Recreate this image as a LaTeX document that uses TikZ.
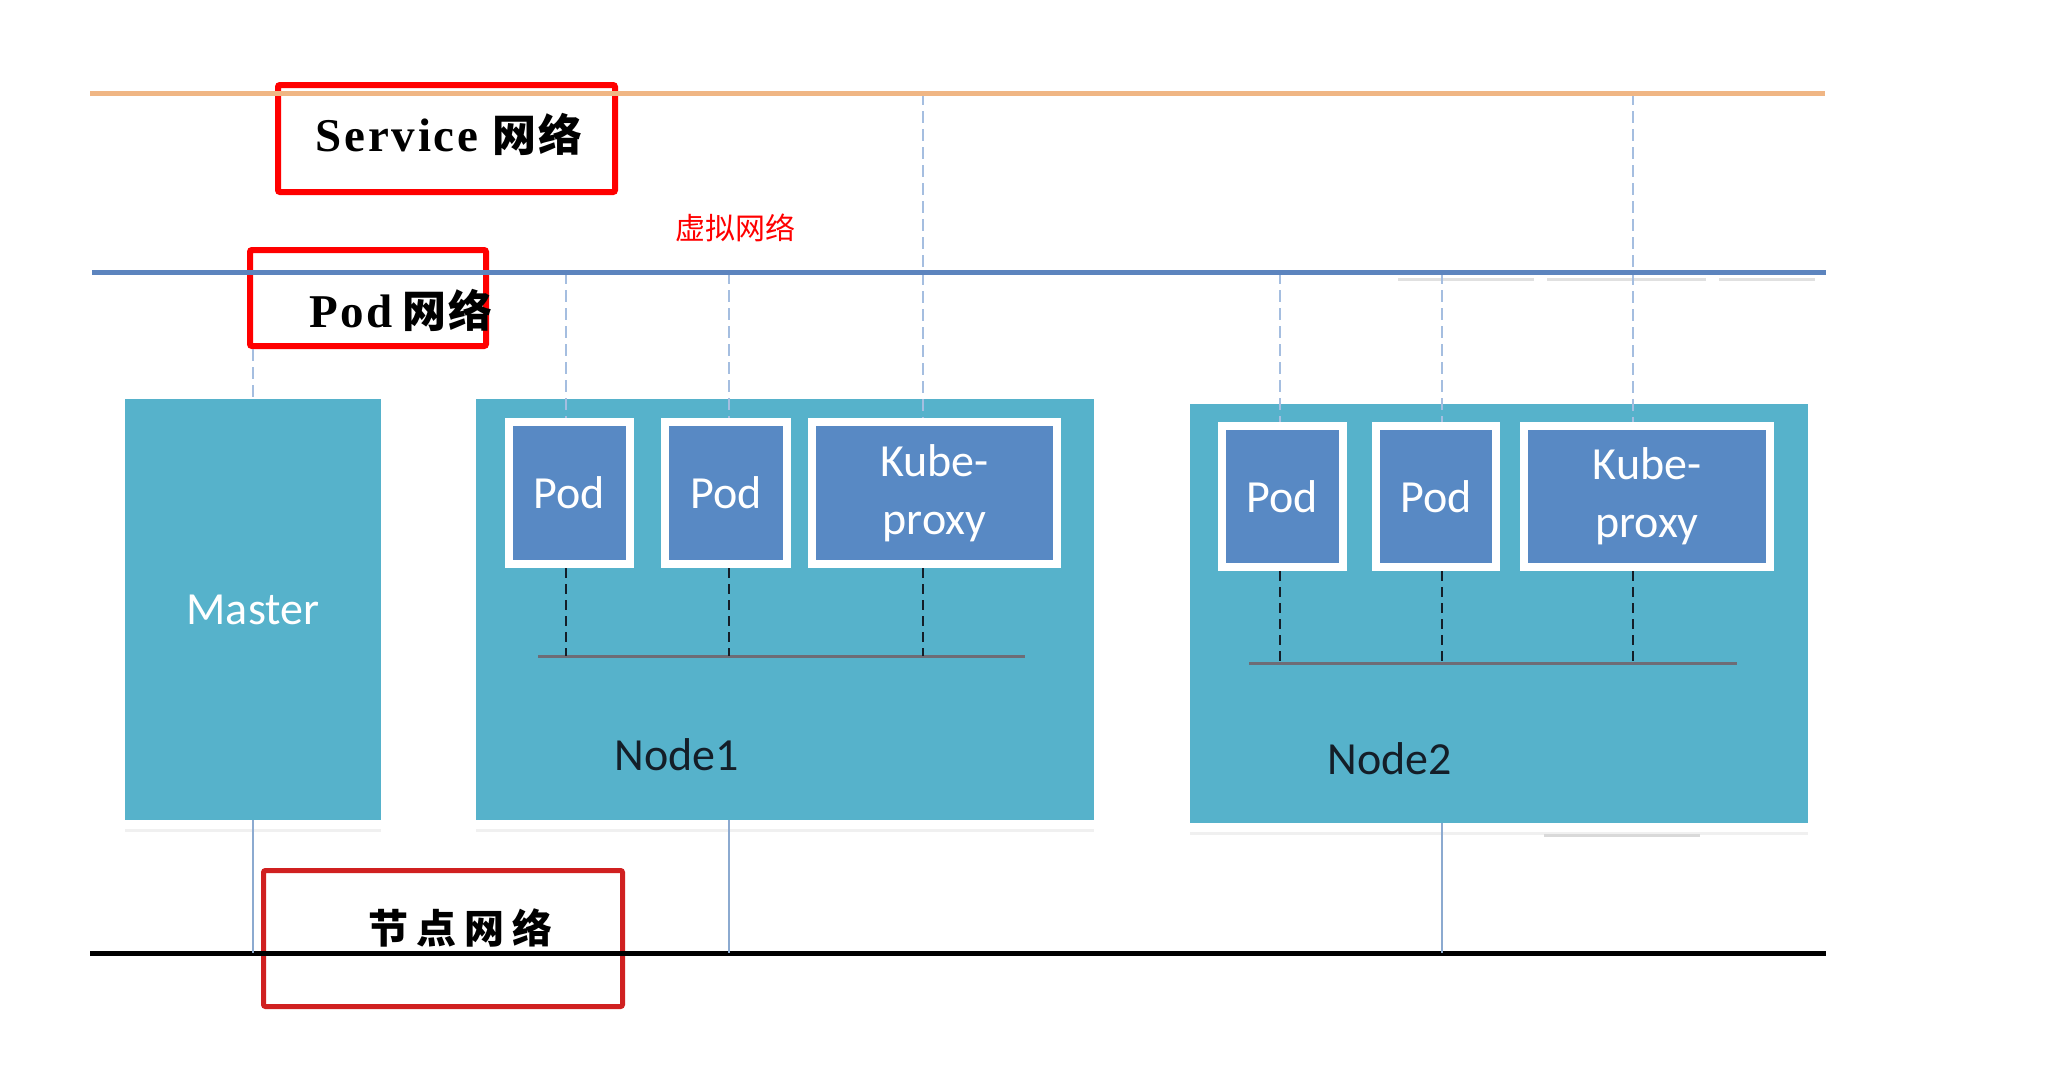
\documentclass[tikz,border=0pt]{standalone}
\usepackage{fontspec}
\newfontfamily\carl{Carlito}
\newfontfamily\zhf{Noto Sans CJK SC}
\newfontfamily\lser{Liberation Serif}[LetterSpace=6]
\usetikzlibrary{calc}
\definecolor{hostteal}{RGB}{86,178,203}
\definecolor{podblue}{RGB}{88,137,196}
\definecolor{svcorange}{RGB}{240,182,132}
\definecolor{podline}{RGB}{92,132,190}
\definecolor{vdashc}{RGB}{165,190,224}
\definecolor{lowline}{RGB}{140,170,208}
\definecolor{busc}{RGB}{110,108,118}
\definecolor{darkred}{RGB}{208,32,32}
\definecolor{labtext}{RGB}{20,30,40}
\begin{document}
\begin{tikzpicture}[x=1pt,y=-1pt,
  host/.style={fill=hostteal, inner sep=0pt, text=white, font=\carl\fontsize{46}{55}\selectfont},
  podbox/.style={fill=podblue, draw=white, line width=8pt, inner sep=0pt, text=white, align=center, font=\carl\fontsize{46}{58}\selectfont},
  redbox/.style={draw=red, line width=6pt, rounded corners=2pt, inner sep=0pt},
  netlabel/.style={inner sep=0pt, text=black, font=\fontsize{47}{50}\selectfont},
  hostlabel/.style={inner sep=0pt, text=labtext, font=\carl\fontsize{46}{55}\selectfont},
  vdash/.style={draw=vdashc, line width=1.5pt, dash pattern=on 12pt off 6pt},
  bdash/.style={draw=labtext, line width=2.5pt, dash pattern=on 10pt off 6pt},
  lowl/.style={draw=lowline, line width=1.6pt},
  busl/.style={draw=busc, line width=3pt},
  refl/.style={draw=black!12, line width=3pt}
]
\useasboundingbox[fill=white] (0,0) rectangle (2066,1066);

% network line end points
\coordinate (svcW) at (90,93);   \coordinate (svcE) at (1825,93);
\coordinate (podW) at (92,272);  \coordinate (podE) at (1826,272);
\coordinate (nodW) at (90,953);  \coordinate (nodE) at (1826,953);
% bus end points
\coordinate (b1W) at (538,656);  \coordinate (b1E) at (1025,656);
\coordinate (b2W) at (1249,663); \coordinate (b2E) at (1737,663);
% columns
\coordinate (cm)  at (253,0);
\coordinate (c11) at (566,0);  \coordinate (c12) at (729,0);  \coordinate (ck1) at (923,0);
\coordinate (c21) at (1280,0); \coordinate (c22) at (1442,0); \coordinate (ck2) at (1633,0);

% faint reflections
\draw[refl] (1398,279) -- (1534,279);
\draw[refl] (1547,279) -- (1706,279);
\draw[refl] (1719,279) -- (1815,279);
\draw[draw=black!6, line width=3pt] (125,830) -- (381,830);
\draw[draw=black!6, line width=3pt] (476,830) -- (1094,830);
\draw[draw=black!6, line width=3pt] (1190,833) -- (1808,833);
\draw[draw=black!15, line width=3pt] (1544,835) -- (1700,835);

% host boxes
\node[host, minimum width=256pt, minimum height=421pt] (master) at (253,609.5) {Master};
\node[host, minimum width=618pt, minimum height=421pt] (n1) at (785,609.5) {};
\node[host, minimum width=618pt, minimum height=419pt] (n2) at (1499,613.5) {};
\node[hostlabel] (n1lab) at (677,755) {Node1};
\node[hostlabel] (n2lab) at (1390,759) {Node2};

% pods
\node[podbox, minimum width=121pt, minimum height=142pt] (p11) at (569.5,493) {Pod};
\node[podbox, minimum width=122pt, minimum height=142pt] (p12) at (726,493) {Pod};
\node[podbox, minimum width=245pt, minimum height=142pt] (k1) at (934.5,493) {Kube-\\proxy};
\node[podbox, minimum width=121pt, minimum height=141pt] (p21) at (1282.5,496.5) {Pod};
\node[podbox, minimum width=120pt, minimum height=141pt] (p22) at (1436,496.5) {Pod};
\node[podbox, minimum width=246pt, minimum height=141pt] (k2) at (1647,496.5) {Kube-\\proxy};

% red label boxes
\node[redbox, minimum width=337pt, minimum height=107pt] (svcbox) at (446.5,138.5) {};
\node[redbox, minimum width=236pt, minimum height=96pt] (podbox) at (368,298) {};
\node[redbox, draw=darkred, line width=5pt, minimum width=359pt, minimum height=136pt] (nodbox) at (443,938.5) {};

% virtual dashed links
\draw[vdash] (cm |- podbox.south) -- (master.north);
\draw[vdash] (c11 |- podW) -- (c11 |- p11.north);
\draw[vdash] (c12 |- podW) -- (c12 |- p12.north);
\draw[vdash] (ck1 |- svcW) -- (ck1 |- k1.north);
\draw[vdash] (c21 |- podW) -- (c21 |- p21.north);
\draw[vdash] (c22 |- podW) -- (c22 |- p22.north);
\draw[vdash] (ck2 |- svcW) -- (ck2 |- k2.north);

% network lines
\draw[draw=svcorange, line width=5pt] (svcW) -- (svcE);
\draw[draw=podline, line width=5pt] (podW) -- (podE);
\draw[draw=black, line width=5pt] (nodW) -- (nodE);

% node network links
\draw[lowl] (master.south) -- (master.south |- nodW);
\draw[lowl] (c12 |- n1.south) -- (c12 |- nodW);
\draw[lowl] (c22 |- n2.south) -- (c22 |- nodW);

% buses
\draw[busl] (b1W) -- (b1E);
\draw[busl] (b2W) -- (b2E);
\draw[bdash] (c11 |- p11.south) -- (c11 |- b1W);
\draw[bdash] (c12 |- p12.south) -- (c12 |- b1W);
\draw[bdash] (ck1 |- k1.south) -- (ck1 |- b1W);
\draw[bdash] (c21 |- p21.south) -- (c21 |- b2W);
\draw[bdash] (c22 |- p22.south) -- (c22 |- b2W);
\draw[bdash] (ck2 |- k2.south) -- (ck2 |- b2W);

% labels
\node[netlabel, anchor=base] (svclab) at (449,151) {\lser\bfseries Service\hspace{14pt}\zhf\bfseries\fontsize{44}{50}\selectfont 网\hspace{2pt}络};
\node[netlabel, anchor=base] (podlab) at (401,327) {\lser\bfseries Pod\hspace{10pt}\zhf\bfseries\fontsize{44}{50}\selectfont 网\hspace{2pt}络};
\node[inner sep=0pt, text=red, font=\zhf\fontsize{30}{34}\selectfont] (vlab) at (735,228) {虚拟网络};
\node[inner sep=0pt, text=black, font=\zhf\bfseries\fontsize{40}{44}\selectfont] (nodlab) at (460,928) {节\hspace{8pt}点\hspace{8pt}网\hspace{8pt}络};
\end{tikzpicture}
\end{document}
